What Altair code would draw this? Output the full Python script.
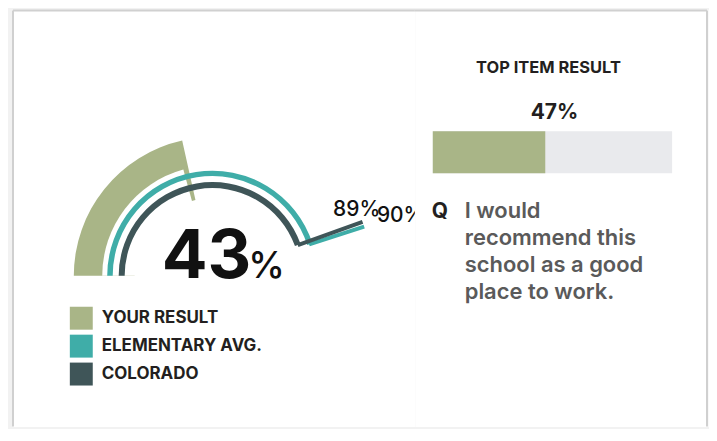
import math
import altair as alt
import pandas as pd

# ---------------- data ----------------
series = ["YOUR RESULT", "ELEMENTARY AVG.", "COLORADO"]
values = [43, 90, 89]
colors = ["#a9b587", "#3fada8", "#3f5558"]
top_item_title = "TOP ITEM RESULT"
top_item_value = [47]
question_lines = ["I would", "recommend this", "school as a good", "place to work."]

# ---------------- style ----------------
FONT = "Inter"
TXT = "#231f20"
QTXT = "#5a5a5a"
BORDER = "#d0d0d0"
TRACK = "#e9eaed"

LW, RW, H = 404, 294, 418
CX, CY = 201, 267

theta_scale = alt.Scale(domain=[0, 100], range=[-math.pi / 2, math.pi / 2])
color_scale = alt.Scale(domain=series, range=colors)
legend = alt.Legend(
    title=None, orient="none", legendX=58, legendY=298, padding=0,
    symbolType="square", symbolSize=529, symbolStrokeWidth=0, symbolOpacity=1,
    rowPadding=5, labelOffset=9, labelFont=FONT, labelFontSize=17,
    labelFontWeight="bold", labelColor=TXT, labelLimit=300,
)


def row(i):
    return pd.DataFrame({"series": [series[i]], "start": [0], "value": [values[i]]})


def th(field):
    return alt.Theta(field, type="quantitative", scale=theta_scale, stack=None)


center = dict(x=alt.value(CX), y=alt.value(CY))
col = alt.Color("series:N", scale=color_scale, legend=legend)

green = alt.Chart(row(0)).mark_arc(radius=139, radius2=78).encode(
    theta=th("start"), theta2="value:Q", color=col, **center)
cover = alt.Chart(row(0)).transform_calculate(end="datum.value - 1.5").mark_arc(
    radius=110.5, radius2=0, color="white").encode(theta=th("start"), theta2="end:Q", **center)
teal = alt.Chart(row(1)).mark_arc(radius=105.5, radius2=100).encode(
    theta=th("start"), theta2="value:Q", color=col, **center)
dark = alt.Chart(row(2)).mark_arc(radius=94, radius2=88).encode(
    theta=th("start"), theta2="value:Q", color=col, **center)
teal_lead = alt.Chart(row(1)).mark_arc(
    radius=160, radius2=102, filled=False, stroke=colors[1], strokeWidth=4).encode(
    theta=th("value"), theta2="value:Q", **center)
dark_lead = alt.Chart(row(2)).mark_arc(
    radius=160, radius2=91, filled=False, stroke=colors[2], strokeWidth=4).encode(
    theta=th("value"), theta2="value:Q", **center)

big = alt.Chart(row(0)).mark_text(
    align="right", baseline="alphabetic", font=FONT, fontSize=68, fontWeight="bold", color="#111111"
).encode(text=alt.Text("value:Q", format="d"), x=alt.value(240), y=alt.value(269))
pct = alt.Chart(row(0)).transform_calculate(p="'%'").mark_text(
    align="left", baseline="alphabetic", font=FONT, fontSize=37, fontWeight=500, color="#111111"
).encode(text="p:N", x=alt.value(237), y=alt.value(269))

teal_lbl = alt.Chart(row(1)).transform_calculate(lbl="datum.value + '%'").mark_text(
    align="left", baseline="alphabetic", font=FONT, fontSize=21, fontWeight=500, color="#111111",
    radius=160, dx=12.8, dy=-4.6, clip=True
).encode(theta=th("value"), text="lbl:N", **center)
dark_lbl = alt.Chart(row(2)).transform_calculate(lbl="datum.value + '%'").mark_text(
    align="left", baseline="alphabetic", font=FONT, fontSize=21, fontWeight=500, color="#111111",
    radius=160, dx=-29.6, dy=-5.8, clip=True
).encode(theta=th("value"), text="lbl:N", **center)

one = pd.DataFrame({"k": [0]})
left_border = alt.Chart(one).mark_rule(color=BORDER, strokeWidth=2).encode(
    x=alt.value(1), y=alt.value(1), y2=alt.value(H))
top_border_l = alt.Chart(one).mark_rule(color=BORDER, strokeWidth=2).encode(
    x=alt.value(1), x2=alt.value(LW), y=alt.value(1))

left = alt.layer(
    green, cover, teal, dark, teal_lead, dark_lead, big, pct, dark_lbl, teal_lbl,
    left_border, top_border_l,
).properties(width=LW, height=H)

# ---------------- right panel ----------------
xs = alt.Scale(domain=[0, 100], range=[18, 258])
bar_df = pd.DataFrame({"start": [0], "full": [100], "value": top_item_value})

track = alt.Chart(bar_df).mark_rect(color=TRACK).encode(
    x=alt.X("start:Q", scale=xs, axis=None), x2="full:Q", y=alt.value(122), y2=alt.value(164))
bar = alt.Chart(bar_df).mark_rect(color=colors[0]).encode(
    x=alt.X("start:Q", scale=xs, axis=None), x2="value:Q", y=alt.value(122), y2=alt.value(164))
head = alt.Chart(pd.DataFrame({"t": [top_item_title]})).mark_text(
    align="center", baseline="alphabetic", font=FONT, fontSize=16.5, fontWeight="bold", color=TXT
).encode(text="t:N", x=alt.value(134), y=alt.value(64))
val = alt.Chart(bar_df).transform_calculate(lbl="datum.value + '%'").mark_text(
    align="center", baseline="alphabetic", font=FONT, fontSize=21, fontWeight="bold", color=TXT
).encode(text="lbl:N", x=alt.value(140), y=alt.value(110))
qmark = alt.Chart(pd.DataFrame({"t": ["Q"]})).mark_text(
    align="left", baseline="alphabetic", font=FONT, fontSize=21, fontWeight="bold", color=TXT
).encode(text="t:N", x=alt.value(17), y=alt.value(209))
qtext = alt.Chart(pd.DataFrame({"t": ["\n".join(question_lines)]})).mark_text(
    align="left", baseline="alphabetic", font=FONT, fontSize=22, fontWeight=600, color=QTXT,
    lineBreak="\n", lineHeight=27
).encode(text="t:N", x=alt.value(50), y=alt.value(209))
right_border = alt.Chart(one).mark_rule(color=BORDER, strokeWidth=2).encode(
    x=alt.value(RW - 1), y=alt.value(1), y2=alt.value(H))
top_border_r = alt.Chart(one).mark_rule(color=BORDER, strokeWidth=2).encode(
    x=alt.value(0), x2=alt.value(RW - 1), y=alt.value(1))

right = alt.layer(track, bar, head, val, qmark, qtext, right_border, top_border_r).properties(
    width=RW, height=H)

chart = alt.hconcat(left, right, spacing=0, bounds="flush").properties(
    padding={"left": 3, "top": 0, "right": 0, "bottom": 0},
    background="#f2f2f2",
).configure_view(fill="white", stroke="transparent")

chart.save("out.html", embed_options={"renderer": "svg", "actions": False})
